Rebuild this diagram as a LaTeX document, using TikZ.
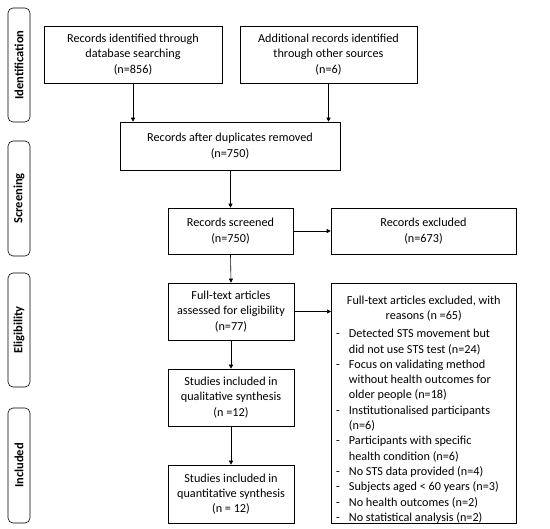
\documentclass[tikz,border=0pt]{standalone}
\usepackage{fontspec}
\setmainfont{Carlito}
\usetikzlibrary{arrows.meta}
\begin{document}
\begin{tikzpicture}[x=1pt,y=-1pt,
  txt/.style={font=\fontsize{12.2}{15.3}\selectfont},
  box/.style={draw, line width=0.6pt, txt, align=center, inner sep=0pt},
  phase/.style={draw, line width=0.6pt, rounded corners=5pt, inner sep=0pt},
  arr/.style={-{Triangle[length=4pt,width=4pt]}, line width=0.6pt}]
\useasboundingbox (0,0) rectangle (550,529);
% phase labels
\foreach \n/\t/\a/\b in {pi/Identification/8/122, ps/Screening/141/256, pe/Eligibility/273/387, pin/Included/408/523}{
  \draw[phase] (8,\a) rectangle (30,\b);
  \node[rotate=90, font=\fontsize{12.5}{14}\selectfont\bfseries] (\n) at (19,{(\a+\b)/2}) {\t};
}
% boxes
\node[box, minimum width=178, minimum height=57] (b1) at (133,54.5) {Records identified through\\database searching\\(n=856)};
\node[box, minimum width=177, minimum height=57] (b2) at (328.5,54.5) {Additional records identified\\through other sources\\(n=6)};
\node[box, minimum width=220, minimum height=48] (b3) at (230,146) {Records after duplicates removed\\(n=750)};
\node[box, minimum width=125, minimum height=46] (b4) at (230.5,231) {Records screened\\(n=750)};
\node[box, minimum width=185, minimum height=46] (b5) at (423.5,231) {Records excluded\\(n=673)};
\node[box, minimum width=126, minimum height=57] (b6) at (231,311.5) {Full-text articles\\assessed for eligibility\\(n=77)};
\node[box, minimum width=126, minimum height=57] (b7) at (231,397.5) {Studies included in\\qualitative synthesis\\(n =12)};
\node[box, minimum width=126, minimum height=58] (b8) at (231,494) {Studies included in\\quantitative synthesis\\(n = 12)};
\node[box, minimum width=185, minimum height=240, anchor=north west] (b9) at (331,283) {};
\node[txt, align=center, anchor=north, inner sep=0pt] (t9) at ([yshift=-13pt]b9.north) {Full-text articles excluded, with\\reasons (n =65)};
\node[txt, align=left, anchor=north west, inner sep=0pt] (l9) at ([xshift=5pt,yshift=-5pt]b9.west |- t9.south) {%
\begin{tabular}{@{}l@{\hspace{9pt}}l@{}}
-& Detected STS movement but\\
 & did not use STS test (n=24)\\
-& Focus on validating method\\
 & without health outcomes for\\
 & older people (n=18)\\
-& Institutionalised participants\\
 & (n=6)\\
-& Participants with specific\\
 & health condition (n=6)\\
-& No STS data provided (n=4)\\
-& Subjects aged < 60 years (n=3)\\
-& No health outcomes (n=2)\\
-& No statistical analysis (n=2)
\end{tabular}};
% arrows
\draw[arr] (b1.south) -- (b1.south |- b3.north);
\draw[arr] (b2.south) -- (b2.south |- b3.north);
\draw[arr] (b3.south -| b4.north) -- (b4.north);
\draw[arr] (b4.east) -- (b5.west);
\draw[arr] (b4.south) -- (b6.north);
\draw[arr] (b6.east) -- (b6.east -| b9.west);
\draw[arr] (b6.south) -- (b7.north);
\draw[arr] (b7.south) -- (b8.north);
\end{tikzpicture}
\end{document}
